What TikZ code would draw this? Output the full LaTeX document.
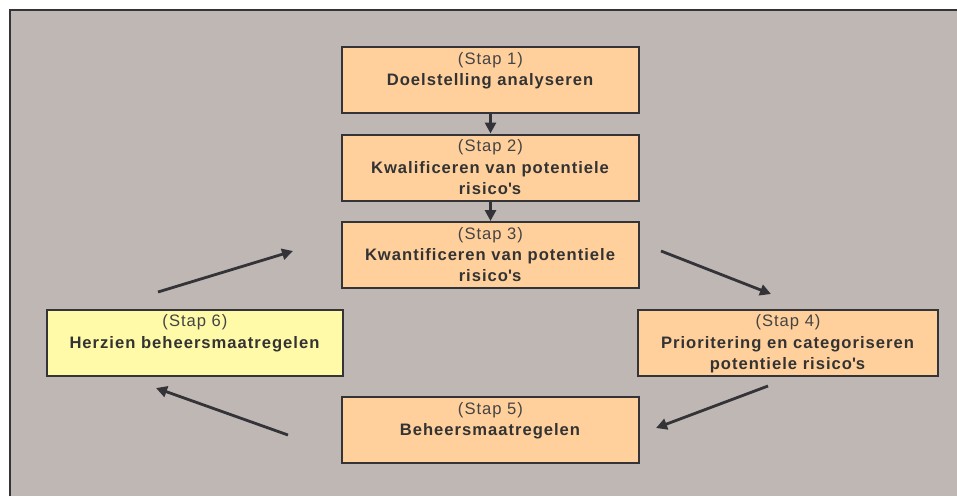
\documentclass[tikz,border=0pt]{standalone}
\usepackage{fontspec}
\setmainfont[LetterSpace=6]{Liberation Sans}
\usetikzlibrary{arrows.meta,calc}

\definecolor{panel}{HTML}{BFB7B4}
\definecolor{stepfill}{HTML}{FFD09C}
\definecolor{reviewfill}{HTML}{FFFAA8}
\definecolor{ink}{HTML}{333338}
\definecolor{textdark}{HTML}{333333}
\definecolor{textsoft}{HTML}{444444}

\newcommand{\apos}{\textquotesingle}
\newcommand{\stepno}[1]{\textcolor{textsoft}{(Stap #1)}}

\tikzset{
  stepbox/.style={draw=ink, line width=2pt, fill=stepfill, inner sep=0pt,
    minimum width=297pt, minimum height=66pt},
  reviewbox/.style={stepbox, fill=reviewfill},
  steptext/.style={anchor=north, inner sep=0pt, align=center, text=textdark,
    font=\fontsize{16.6pt}{21.2pt}\selectfont, yshift=-6.2pt},
  flow/.style={draw=ink, line width=2.8pt,
    -{Triangle[length=11pt,width=11pt]}},
}

\begin{document}
\begin{tikzpicture}[x=1pt,y=-1pt]
  % page and panel
  \fill[white] (0,0) rectangle (957,496);
  \useasboundingbox (0,0) rectangle (957,496);
  \fill[panel] (10,10) rectangle (957,496);
  \draw[ink, line width=2.2pt] (10,496) -- (10,10) -- (957,10);

  % process steps
  \node[stepbox]   (s1) at (490.5,80)  {};
  \node[stepbox]   (s2) at (490.5,167.5) {};
  \node[stepbox]   (s3) at (490.5,255) {};
  \node[stepbox, minimum width=300pt] (s4) at (788,342.5) {};
  \node[stepbox]   (s5) at (490.5,430) {};
  \node[reviewbox, minimum width=296pt] (s6) at (195,342.5) {};

  \node[steptext] (t1) at (s1.north) {\stepno{1}\\\textbf{Doelstelling analyseren}};
  \node[steptext] (t2) at (s2.north) {\stepno{2}\\\textbf{Kwalificeren van potentiele}\\\textbf{risico\apos s}};
  \node[steptext] (t3) at (s3.north) {\stepno{3}\\\textbf{Kwantificeren van potentiele}\\\textbf{risico\apos s}};
  \node[steptext] (t4) at (s4.north) {\stepno{4}\\\textbf{Prioritering en categoriseren}\\\textbf{potentiele risico\apos s}};
  \node[steptext] (t5) at (s5.north) {\stepno{5}\\\textbf{Beheersmaatregelen}};
  \node[steptext] (t6) at (s6.north) {\stepno{6}\\\textbf{Herzien beheersmaatregelen}};

  % loose ends of the cycle arrows
  \coordinate (a34) at (661,251);  \coordinate (b34) at (771,294);
  \coordinate (a45) at (768,386);  \coordinate (b45) at (656,428);
  \coordinate (a56) at (288,435);  \coordinate (b56) at (156,388);
  \coordinate (a63) at (158,292);  \coordinate (b63) at (293,251);

  % connectors
  \draw[flow] (s1.south) -- (s2.north);
  \draw[flow] (s2.south) -- (s3.north);
  \draw[flow] (a34) -- (b34);
  \draw[flow] (a45) -- (b45);
  \draw[flow] (a56) -- (b56);
  \draw[flow] (a63) -- (b63);
\end{tikzpicture}
\end{document}
